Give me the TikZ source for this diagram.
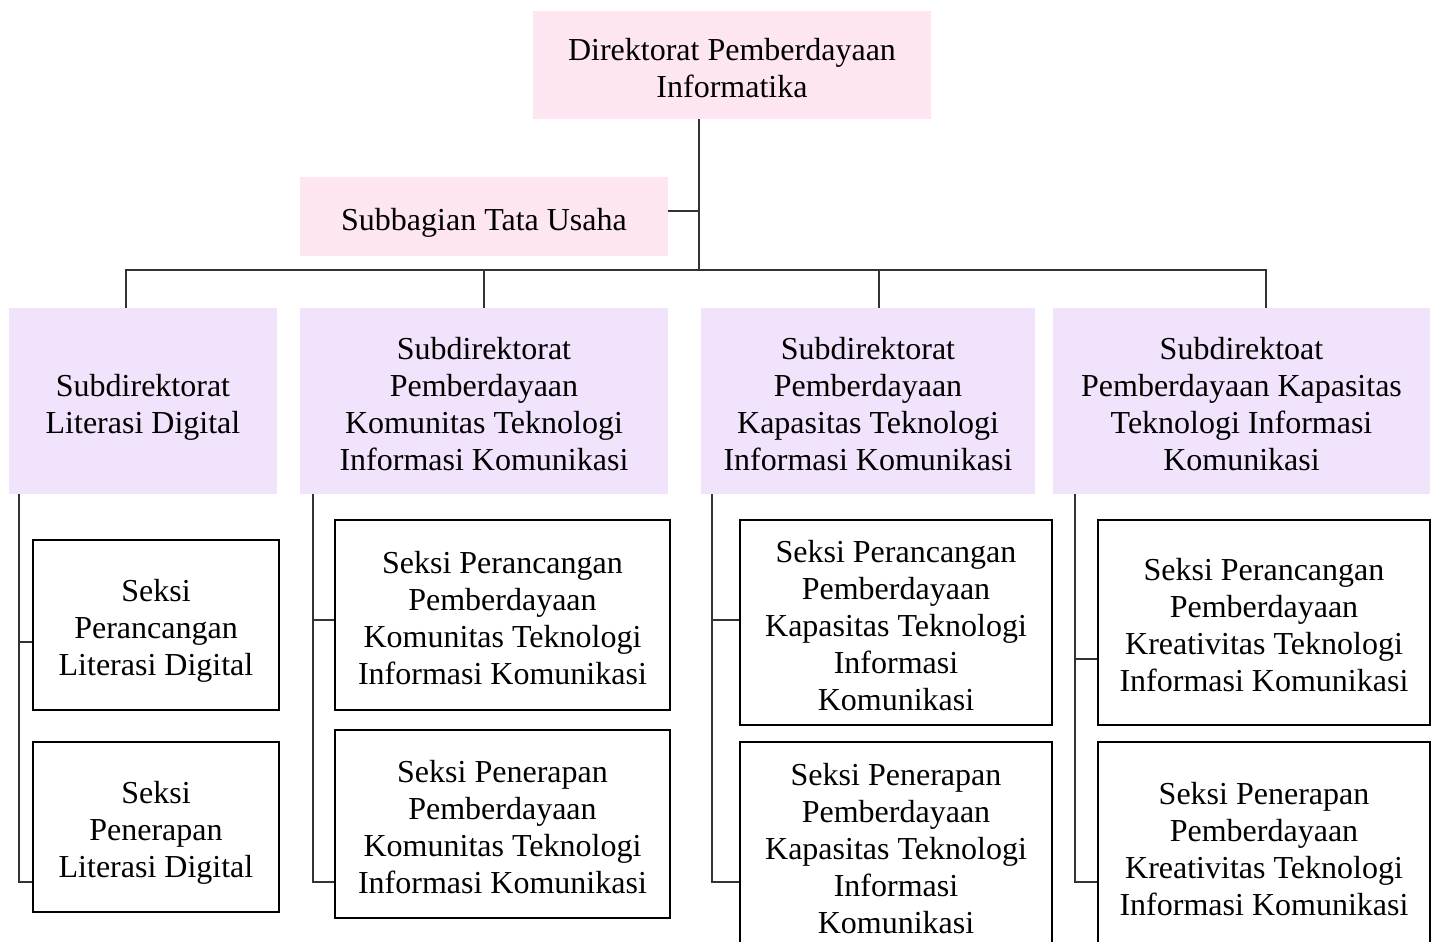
\documentclass[tikz,border=0pt]{standalone}
\usepackage{fontspec}
\setmainfont{Liberation Serif}
\usepackage{xcolor}
\definecolor{orgpink}{HTML}{FDE5F2}
\definecolor{orglilac}{HTML}{F2E3FC}
\definecolor{orgline}{HTML}{333333}
\newcommand{\tp}{\rule{0pt}{34pt}}
\begin{document}
\begin{tikzpicture}[x=1pt,y=-1pt,
  unit/.style={font=\fontsize{32}{37}\selectfont,align=center,inner sep=0pt,
               execute at end node={\rule[-7pt]{0pt}{7pt}}},
  head/.style={unit,fill=orgpink},
  sub/.style={unit,fill=orglilac,minimum height=186pt},
  seksi/.style={unit,draw=black,line width=2.8pt,fill=white},
  link/.style={draw=orgline,line width=1.3pt}]
\useasboundingbox (0,0) rectangle (1446,942);
\clip (0,0) rectangle (1446,942);
\node[head,minimum width=398pt,minimum height=108pt] (dir) at (732,65)
  {\tp Direktorat Pemberdayaan\\Informatika};
\node[head,minimum width=368pt,minimum height=79pt] (tu) at (484,216.5)
  {\tp Subbagian Tata Usaha};
\node[sub,minimum width=268pt] (sd1) at (143,401)
  {\tp Subdirektorat\\Literasi Digital};
\node[sub,minimum width=368pt] (sd2) at (484,401)
  {\tp Subdirektorat\\Pemberdayaan\\Komunitas Teknologi\\Informasi Komunikasi};
\node[sub,minimum width=334pt] (sd3) at (868,401)
  {\tp Subdirektorat\\Pemberdayaan\\Kapasitas Teknologi\\Informasi Komunikasi};
\node[sub,minimum width=377pt] (sd4) at (1241.5,401)
  {\tp Subdirektoat\\Pemberdayaan Kapasitas\\Teknologi Informasi\\Komunikasi};
\node[seksi,minimum width=246pt,minimum height=170pt] (s11) at (156,625)
  {\tp Seksi\\Perancangan\\Literasi Digital};
\node[seksi,minimum width=246pt,minimum height=170pt] (s12) at (156,827)
  {\tp Seksi\\Penerapan\\Literasi Digital};
\node[seksi,minimum width=335pt,minimum height=190pt] (s21) at (502.5,615)
  {\tp Seksi Perancangan\\Pemberdayaan\\Komunitas Teknologi\\Informasi Komunikasi};
\node[seksi,minimum width=335pt,minimum height=188pt] (s22) at (502.5,824)
  {\tp Seksi Penerapan\\Pemberdayaan\\Komunitas Teknologi\\Informasi Komunikasi};
\node[seksi,minimum width=312pt,minimum height=205pt] (s31) at (896,622.5)
  {\tp Seksi Perancangan\\Pemberdayaan\\Kapasitas Teknologi\\Informasi\\Komunikasi};
\node[seksi,minimum width=312pt,minimum height=208pt] (s32) at (896,846)
  {\tp Seksi Penerapan\\Pemberdayaan\\Kapasitas Teknologi\\Informasi\\Komunikasi};
\node[seksi,minimum width=332pt,minimum height=205pt] (s41) at (1264,622.5)
  {\tp Seksi Perancangan\\Pemberdayaan\\Kreativitas Teknologi\\Informasi Komunikasi};
\node[seksi,minimum width=332pt,minimum height=208pt] (s42) at (1264,846)
  {\tp Seksi Penerapan\\Pemberdayaan\\Kreativitas Teknologi\\Informasi Komunikasi};
\coordinate (bus) at (699,270);
\draw[link] (dir.south -| bus) -- (bus);
\draw[link] (tu.east |- 0,211) -- (699,211);
\draw[link] (sd1.north -| 126,0) -- (126,270) -- (1266,270) -- (sd4.north -| 1266,0);
\draw[link] (484,270) -- (sd2.north);
\draw[link] (879,270) -- (sd3.north -| 879,0);
\draw[link] (sd1.south -| 19,0) |- (s12.west |- 0,882);
\draw[link] (19,642) -- (s11.west |- 0,642);
\draw[link] (sd2.south -| 313,0) |- (s22.west |- 0,882);
\draw[link] (313,620) -- (s21.west |- 0,620);
\draw[link] (sd3.south -| 712,0) |- (s32.west |- 0,882);
\draw[link] (712,620) -- (s31.west |- 0,620);
\draw[link] (sd4.south -| 1075,0) |- (s42.west |- 0,882);
\draw[link] (1075,659) -- (s41.west |- 0,659);
\end{tikzpicture}
\end{document}
